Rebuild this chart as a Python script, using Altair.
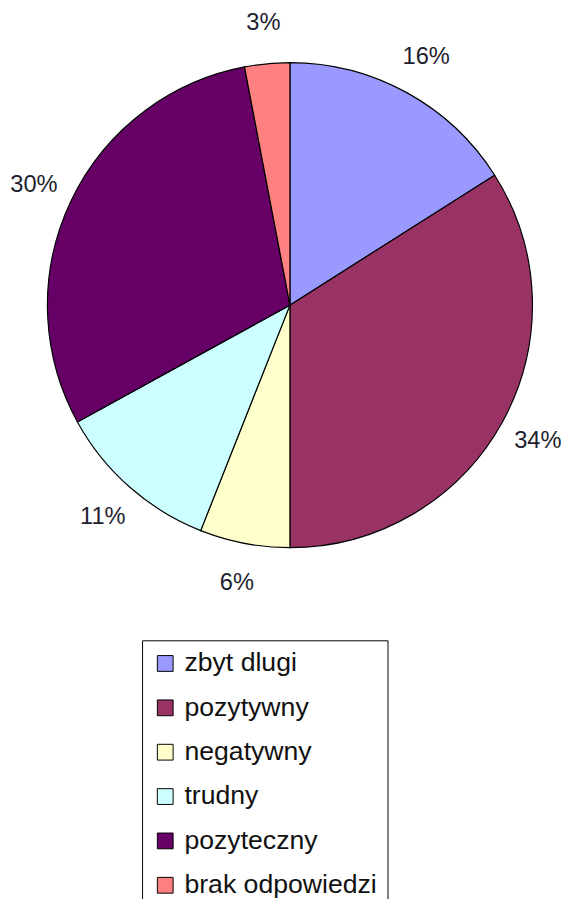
import altair as alt
import pandas as pd

categories = ["zbyt dlugi", "pozytywny", "negatywny", "trudny", "pozyteczny", "brak odpowiedzi"]
values = [16, 34, 6, 11, 30, 3]
labels = ["16%", "34%", "6%", "11%", "30%", "3%"]
colors = ["#9999FF", "#993366", "#FFFFCC", "#CCFFFF", "#660066", "#FF8080"]

df = pd.DataFrame({
    "cat": categories,
    "value": values,
    "label": labels,
    "idx": list(range(len(categories))),
})

cx, cy = 286, 295

base = alt.Chart(df).encode(
    theta=alt.Theta("value:Q", stack=True),
    order=alt.Order("idx:Q"),
)

color = alt.Color(
    "cat:N",
    scale=alt.Scale(domain=categories, range=colors),
    sort=categories,
    legend=alt.Legend(
        orient="none",
        legendX=136,
        legendY=635,
        title=None,
        strokeColor="black",
        fillColor="white",
        padding=10,
        symbolType="square",
        symbolSize=256,
        symbolStrokeColor="black",
        symbolStrokeWidth=1,
        symbolOpacity=1,
        labelFontSize=27,
        labelFont="Liberation Sans",
        labelColor="#111111",
        labelOffset=6,
        rowPadding=17,
        labelLimit=400,
    ),
)

arcs = base.mark_arc(outerRadius=246, stroke="black", strokeWidth=1.2).encode(
    color=color,
    x=alt.value(cx),
    y=alt.value(cy),
)

texts = base.mark_text(
    radius=287, fontSize=24, font="Liberation Sans", color="#1e1e2e",
    align="center", baseline="middle",
).encode(
    text="label:N",
    x=alt.value(cx),
    y=alt.value(cy),
)

chart = alt.layer(arcs, texts).properties(
    width=563,
    height=891,
    autosize=alt.AutoSizeParams(type="none"),
    padding=0,
    background="white",
).configure_view(stroke=None)

chart.save("out.html", embed_options={"renderer": "svg", "actions": False})
